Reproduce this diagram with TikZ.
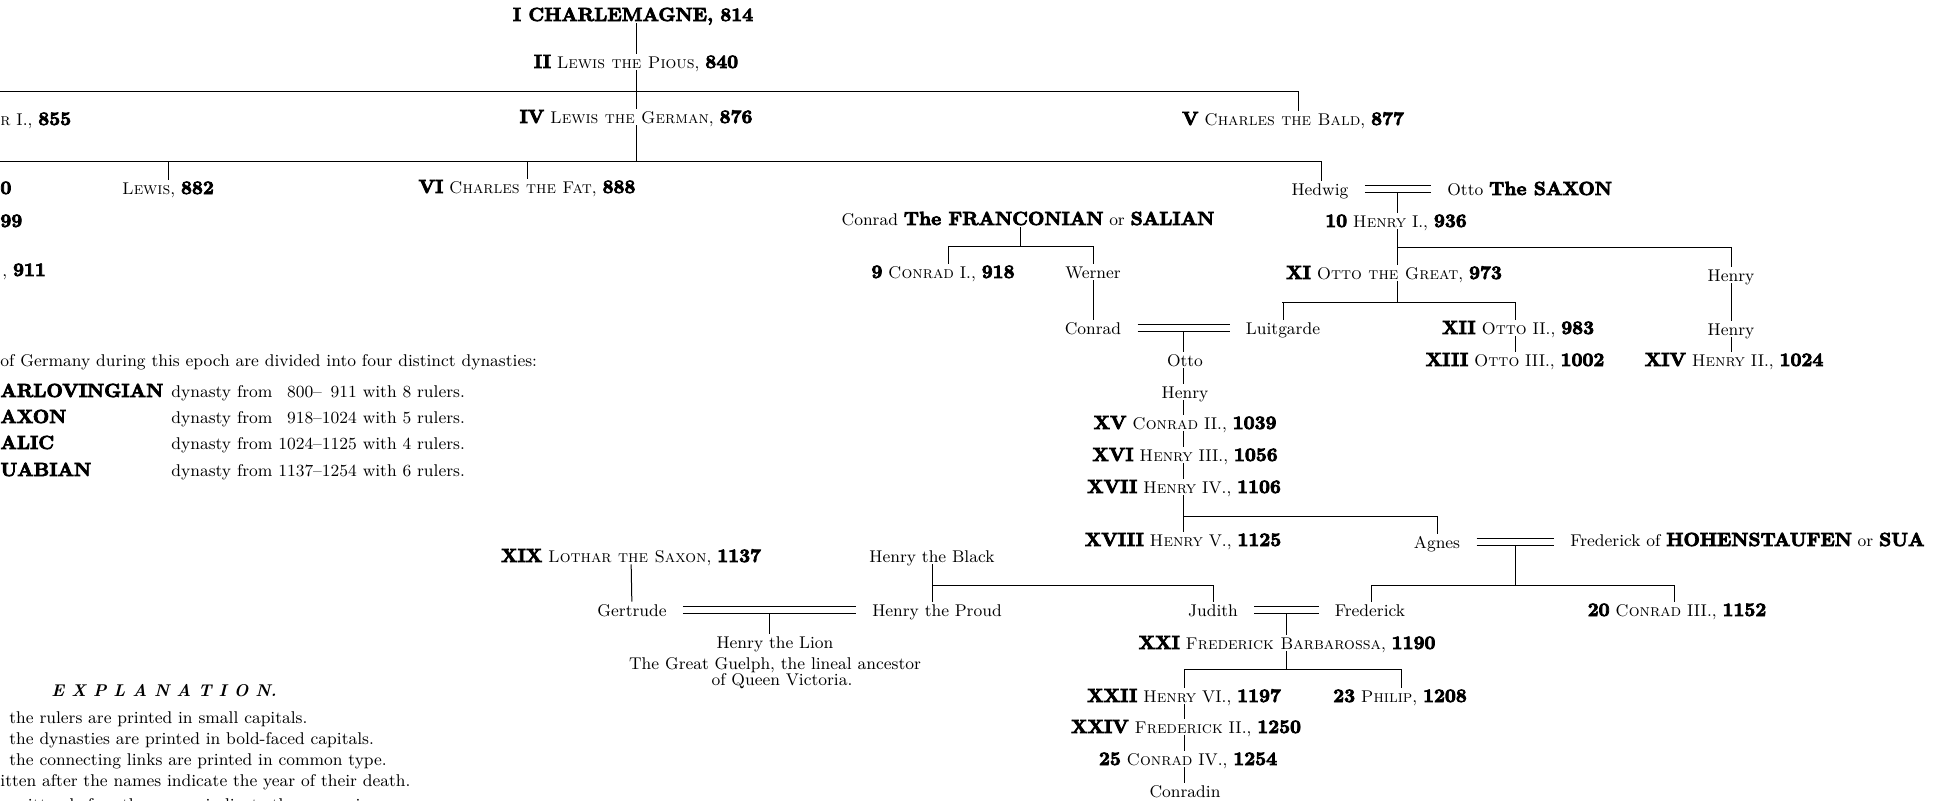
\documentclass[tikz,border=0pt]{standalone}
\usepackage{fontspec}
\usetikzlibrary{calc}
\newfontfamily\heavy{lmroman10-bold.otf}[FakeBold=4]
\newcommand\fs{\fontsize{8.5}{10}\selectfont}
\newcommand\Bd[1]{{\fontsize{9.5}{10}\heavy #1}}
\newcommand\Sc[1]{\textsc{#1}}
\begin{document}
\begin{tikzpicture}[x=0.5pt,y=-0.5pt,
  nm/.style={inner xsep=0pt,inner ysep=1pt,text height=6pt,text depth=0pt,font=\fs},
  lt/.style={nm,anchor=west},
  lk/.style={line width=0.5pt},
  wl/.style={line width=0.5pt,shorten <=8pt,shorten >=8pt}]
\useasboundingbox (0,0) rectangle (1939,800);
% ---------------- nodes ----------------
\node[nm] (charl) at (633,15) {\Bd{I CHARLEMAGNE, 814}};
\node[nm] (pious) at (636,62) {\Bd{II} \Sc{Lewis the Pious}, \Bd{840}};
\node[lt] (lothfr) at (0,119) {\Sc{r} I., \Bd{855}};
\node[nm] (german) at (636,117) {\Bd{IV} \Sc{Lewis the German}, \Bd{876}};
\node[nm] (bald) at (1293,119) {\Bd{V} \Sc{Charles the Bald}, \Bd{877}};
\node[lt] (fr0) at (0,188) {\Bd{0}};
\node[nm] (lewis) at (168,188) {\Sc{Lewis}, \Bd{882}};
\node[nm] (fat) at (527,187) {\Bd{VI} \Sc{Charles the Fat}, \Bd{888}};
\node[nm] (hedwig) at (1320,189) {Hedwig};
\node[lt] (saxon) at (1447,189) {Otto \Bd{The SAXON}};
\node[lt] (fr99) at (0,221) {\Bd{99}};
\node[nm] (franc) at (1028,219) {Conrad \Bd{The FRANCONIAN} or \Bd{SALIAN}};
\node[nm] (henry1) at (1396,221) {\Bd{10} \Sc{Henry} I., \Bd{936}};
\node[lt] (fr911) at (2,270) {, \Bd{911}};
\node[nm] (conrad1) at (943,272) {\Bd{9} \Sc{Conrad} I., \Bd{918}};
\node[nm] (werner) at (1093,272) {Werner};
\node[nm] (ottog) at (1394,273) {\Bd{XI} \Sc{Otto the Great}, \Bd{973}};
\node[nm] (henryA) at (1731,275) {Henry};
\node[nm] (conradB) at (1093,328) {Conrad};
\node[nm] (luit) at (1283,328) {Luitgarde};
\node[nm] (otto2) at (1518,328) {\Bd{XII} \Sc{Otto} II., \Bd{983}};
\node[nm] (henryB) at (1731,329) {Henry};
\node[nm] (otto) at (1185,360) {Otto};
\node[nm] (otto3) at (1515,360) {\Bd{XIII} \Sc{Otto} III., \Bd{1002}};
\node[nm] (henry2) at (1734,360) {\Bd{XIV} \Sc{Henry} II., \Bd{1024}};
\node[nm] (henryC) at (1185,392) {Henry};
\node[nm] (conrad2) at (1185,423) {\Bd{XV} \Sc{Conrad} II., \Bd{1039}};
\node[nm] (henry3) at (1185,455) {\Bd{XVI} \Sc{Henry} III., \Bd{1056}};
\node[nm] (henry4) at (1184,487) {\Bd{XVII} \Sc{Henry} IV., \Bd{1106}};
\node[nm] (henry5) at (1183,540) {\Bd{XVIII} \Sc{Henry} V., \Bd{1125}};
\node[nm] (agnes) at (1437,542) {Agnes};
\node[lt] (hohen) at (1570,540) {Frederick of \Bd{HOHENSTAUFEN} or \Bd{SUA}};
\node[nm] (lothar2) at (631,556) {\Bd{XIX} \Sc{Lothar the Saxon}, \Bd{1137}};
\node[nm] (black) at (932,556) {Henry the Black};
\node[nm] (gertrude) at (632,610) {Gertrude};
\node[nm] (proud) at (937,610) {Henry the Proud};
\node[nm] (judith) at (1213,610) {Judith};
\node[nm] (fred) at (1370,610) {Frederick};
\node[nm] (conrad3) at (1677,610) {\Bd{20} \Sc{Conrad} III., \Bd{1152}};
\node[nm] (lion) at (775,642) {Henry the Lion};
\node[nm] (guelph) at (775,663) {The Great Guelph, the lineal ancestor};
\node[nm] (victoria) at (782,679) {of Queen Victoria.};
\node[nm] (barb) at (1287,643) {\Bd{XXI} \Sc{Frederick Barbarossa}, \Bd{1190}};
\node[nm] (henry6) at (1184,696) {\Bd{XXII} \Sc{Henry} VI., \Bd{1197}};
\node[nm] (philip) at (1400,696) {\Bd{23} \Sc{Philip}, \Bd{1208}};
\node[nm] (fred2) at (1186,727) {\Bd{XXIV} \Sc{Frederick} II., \Bd{1250}};
\node[nm] (conrad4) at (1188,759) {\Bd{25} \Sc{Conrad} IV., \Bd{1254}};
\node[nm] (conradin) at (1185,791) {Conradin};
% ---------------- left text ----------------
\node[lt] (intro) at (0,360) {of Germany during this epoch are divided into four distinct dynasties:};
\node[lt] (dn1) at (0,391) {\Bd{ARLOVINGIAN}};
\node[lt] (dt1) at (171,391) {dynasty from \phantom{1}800--\phantom{1}911 with 8 rulers.};
\node[lt] (dn2) at (0,417) {\Bd{AXON}};
\node[lt] (dt2) at (171,417) {dynasty from \phantom{1}918--1024 with 5 rulers.};
\node[lt] (dn3) at (0,443) {\Bd{ALIC}};
\node[lt] (dt3) at (171,443) {dynasty from 1024--1125 with 4 rulers.};
\node[lt] (dn4) at (0,470) {\Bd{UABIAN}};
\node[lt] (dt4) at (171,470) {dynasty from 1137--1254 with 6 rulers.};
\node[nm] (expl) at (164,690) {\textbf{\textit{E X P L A N A T I O N.}}};
\node[lt] (ex1) at (9,717) {the rulers are printed in small capitals.};
\node[lt] (ex2) at (9,738) {the dynasties are printed in bold-faced capitals.};
\node[lt] (ex3) at (9,759) {the connecting links are printed in common type.};
\node[lt] (ex4) at (0,780) {itten after the names indicate the year of their death.};
\node[lt] (ex5) at (8,804) {written before the names indicate the succession.};
% ---------------- connectors ----------------
% Carlovingian
\draw[lk] (charl.south -| pious.north) -- (pious.north);
\draw[lk] (pious.south) -- (german.north);
\coordinate (b1L) at (0,91.5); \coordinate (b1R) at (1298,91.5);
\draw[lk] (b1L) -- (b1R) -- (b1R |- bald.north);
\coordinate (b2L) at (0,161); \coordinate (b2R) at (1321,161);
\draw[lk] (german.south) -- (german.south |- b2L);
\draw[lk] (b2L) -- (b2R) -- (b2R |- hedwig.north);
\draw[lk] (b2L -| lewis.north) -- (lewis.north);
\draw[lk] (b2L -| fat.north) -- (fat.north);
% Saxon
\draw[wl] ([yshift=1.6pt]hedwig.east) -- ([yshift=1.6pt]saxon.west);
\draw[wl] ([yshift=-1.6pt]hedwig.east) -- ([yshift=-1.6pt]saxon.west);
\coordinate (m1) at ($(hedwig.east)!.5!(saxon.west)$);
\draw[lk] ([yshift=-1.6pt]m1) -- (m1 |- henry1.north);
\draw[lk] (henry1.south -| m1) -- (ottog.north -| m1);
\coordinate (b3) at (1731,247);
\draw[lk] (b3 -| m1) -- (b3) -- (henryA.north);
\draw[lk] (henryA) -- (henryB);
\draw[lk] (henryB.south) -- (henryB.south |- henry2.north);
\coordinate (b4) at (1282,302); \coordinate (b4R) at (1515,302);
\draw[lk] (ottog.south -| m1) -- (m1 |- b4);
\draw[lk] (b4 -| luit.north) -- (luit.north);
\draw[lk] (b4) -- (b4R) -- (b4R |- otto2.north);
\draw[lk] (otto2.south -| b4R) -- (b4R |- otto3.north);
% Salian
\coordinate (b5a) at (948,246); \coordinate (b5b) at (1093,246); \coordinate (b5c) at (1020,246);
\draw[lk] (franc.south -| b5c) -- (b5c);
\draw[lk] (b5a |- conrad1.north) -- (b5a) -- (b5b) -- (werner.north);
\draw[lk] (werner) -- (conradB);
\draw[wl] ([yshift=1.6pt]conradB.east) -- ([yshift=1.6pt]luit.west);
\draw[wl] ([yshift=-1.6pt]conradB.east) -- ([yshift=-1.6pt]luit.west);
\coordinate (m2) at ($(conradB.east)!.5!(luit.west)$);
\draw[lk] ([yshift=-1.6pt]m2) -- (m2 |- otto.north);
\foreach \a/\b in {otto/henryC,henryC/conrad2,conrad2/henry3,henry3/henry4,henry4/henry5}
  \draw[lk] (\a.south -| m2) -- (\b.north -| m2);
\coordinate (b6) at (1185,516);
\draw[lk] (b6 -| m2) -- (b6 -| agnes.north) -- (agnes.north);
% Hohenstaufen
\draw[wl] ([yshift=1.6pt]agnes.east) -- ([yshift=1.6pt]agnes.east -| hohen.west);
\draw[wl] ([yshift=-1.6pt]agnes.east) -- ([yshift=-1.6pt]agnes.east -| hohen.west);
\coordinate (m3) at ($(agnes.east)!.5!(hohen.west)$);
\coordinate (b7a) at (1371,585); \coordinate (b7b) at (1674,585);
\draw[lk] ([yshift=-1.6pt]m3 |- agnes.east) -- (m3 |- b7a);
\draw[lk] (b7a |- fred.north) -- (b7a) -- (b7b) -- (b7b |- conrad3.north);
% Guelph
\draw[lk] (lothar2) -- (gertrude);
\coordinate (b9a) at (932,585);
\draw[lk] (black.south) -- (black.south |- proud.north);
\draw[lk] (b9a) -- (b9a -| judith.north) -- (judith.north);
\draw[wl] ([yshift=1.6pt]gertrude.east) -- ([yshift=1.6pt]proud.west);
\draw[wl] ([yshift=-1.6pt]gertrude.east) -- ([yshift=-1.6pt]proud.west);
\coordinate (m4) at ($(gertrude.east)!.5!(proud.west)$);
\draw[lk] ([yshift=-1.6pt]m4) -- (m4 |- lion.north);
\draw[wl] ([yshift=1.6pt]judith.east) -- ([yshift=1.6pt]fred.west);
\draw[wl] ([yshift=-1.6pt]judith.east) -- ([yshift=-1.6pt]fred.west);
\coordinate (m5) at ($(judith.east)!.5!(fred.west)$);
\draw[lk] ([yshift=-1.6pt]m5) -- (m5 |- barb.north);
\coordinate (b8a) at (1184,669); \coordinate (b8b) at (1401,669);
\draw[lk] (barb.south -| m5) -- (m5 |- b8a);
\draw[lk] (b8a |- henry6.north) -- (b8a) -- (b8b) -- (b8b |- philip.north);
\foreach \a/\b in {henry6/fred2,fred2/conrad4,conrad4/conradin}
  \draw[lk] (\a.south -| b8a) -- (\b.north -| b8a);
\end{tikzpicture}
\end{document}
